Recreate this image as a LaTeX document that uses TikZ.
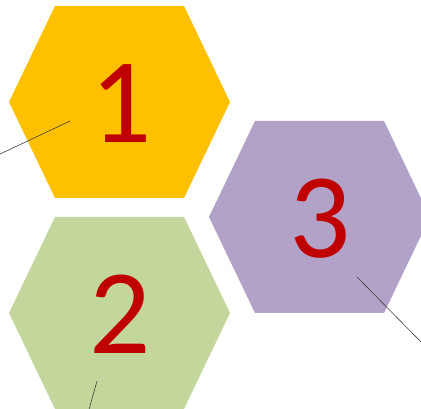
\documentclass[tikz,border=0pt]{standalone}
\usepackage{fontspec}
\setmainfont{Carlito}
\newfontfamily\cellfont{Carlito}
\definecolor{HexGold}{RGB}{255,192,0}
\definecolor{HexGreen}{RGB}{195,214,155}
\definecolor{HexLilac}{RGB}{179,162,199}
\definecolor{HexRed}{RGB}{192,0,0}
\usetikzlibrary{calc}

\begin{document}
\begin{tikzpicture}[x=1pt, y=-1pt,
        digit/.style={font=\cellfont\fontsize{121}{121}\selectfont, text=HexRed, inner sep=0pt},
        pointer/.style={draw=black!75, line width=0.6pt}]
    \useasboundingbox (0,0) rectangle (421,409);
    \clip (0,0) rectangle (421,409);
    % hexagon cells
    \foreach \cx/\cy/\col in {120/102/HexGold, 120/313/HexGreen, 320/217/HexLilac}
        \fill[\col] (\cx-111,\cy) -- ++(46,-96) -- ++(129,0) -- ++(46,96) -- ++(-46,96) -- ++(-129,0) -- cycle;
    \node[digit] (one) at (121,104) {1};
    \node[digit] (two) at (120,314) {2};
    \node[digit] (three) at (320,219) {3};
    % pointer lines
    \coordinate (tip1) at (70,121);
    \coordinate (end1) at (-2,155);
    \coordinate (tip2) at (97,381);
    \coordinate (end2) at (88,413);
    \coordinate (tip3) at (357,277);
    \coordinate (end3) at (424,345);
    \draw[pointer] (tip1) -- (end1);
    \draw[pointer] (tip2) -- (end2);
    \draw[pointer] (tip3) -- (end3);
\end{tikzpicture}
\end{document}
